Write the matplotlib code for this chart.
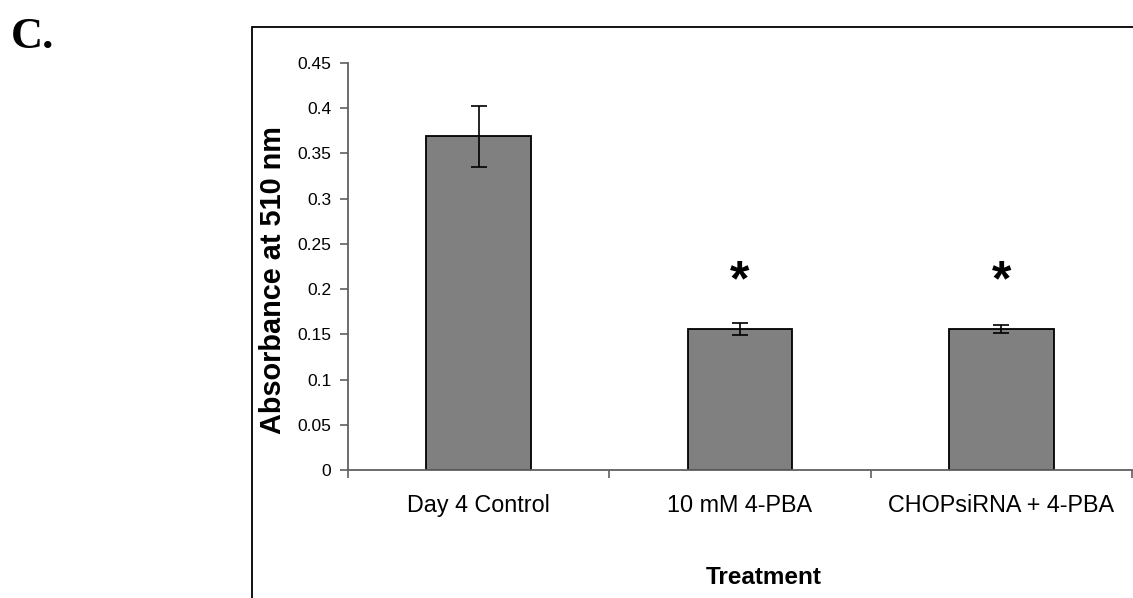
import matplotlib
matplotlib.use("Agg")
import matplotlib.pyplot as plt
from matplotlib.patches import Rectangle

categories = ["Day 4 Control", "10 mM 4-PBA", "CHOPsiRNA + 4-PBA"]
values = [0.369, 0.156, 0.156]
errors = [0.034, 0.0065, 0.004]
significant = [False, True, True]
star_level = 0.207
yticks = [0, 0.05, 0.1, 0.15, 0.2, 0.25, 0.3, 0.35, 0.4, 0.45]
ytick_labels = ["0", "0.05", "0.1", "0.15", "0.2", "0.25", "0.3", "0.35", "0.4", "0.45"]

W, H = 1133, 598
fig = plt.figure(figsize=(W / 100, H / 100), dpi=100)
plt.rcParams['font.family'] = ['Liberation Sans', 'DejaVu Sans']

# outer frame
fig.patches.append(Rectangle((252 / W, -0.1), 2.0, 1 - 27 / H + 0.1, transform=fig.transFigure,
                             fill=False, edgecolor='black', linewidth=1.3))

ax = fig.add_axes([348 / W, 1 - 470 / H, (1132 - 348) / W, (470 - 63) / H])
x = list(range(len(categories)))
ax.bar(x, values, width=0.40, color='#808080', edgecolor='black', linewidth=1.3, zorder=2)
ax.errorbar(x, values, yerr=errors, fmt='none', ecolor='black', elinewidth=1.2,
            capsize=5.5, capthick=1.2, zorder=3)
for xi, s in zip(x, significant):
    if s:
        ax.text(xi, star_level, "*", ha='center', va='center', fontsize=36,
                fontweight='bold')

ax.set_xlim(-0.5, len(categories) - 0.5)
ax.set_ylim(0, 0.45)
ax.set_yticks(yticks)
ax.set_yticklabels(ytick_labels, fontsize=12.5)
ax.set_xticks([i - 0.5 for i in range(len(categories) + 1)])
ax.set_xticklabels([])
ax.set_xticks(x, minor=True)
ax.set_xticklabels(categories, minor=True, fontsize=16.8)
ax.tick_params(axis='x', which='minor', length=0, pad=17.5)
ax.tick_params(axis='x', which='major', length=6, width=1.2, color='#606060', direction='out')
ax.tick_params(axis='y', length=6, width=1.2, color='#606060', pad=6)
for side in ['top', 'right']:
    ax.spines[side].set_visible(False)
for side in ['left', 'bottom']:
    ax.spines[side].set_color('#606060')
    ax.spines[side].set_linewidth(1.3)
ax.patch.set_alpha(0)

fig.text(273 / W, 1 - 280 / H, "Absorbance at 510 nm", rotation=90, ha='center', va='center',
         fontsize=20.8, fontweight='bold')
fig.text(764 / W, 1 - 578 / H, "Treatment", ha='center', va='center',
         fontsize=17.5, fontweight='bold')
fig.text(11 / W, 1 - 48 / H, "C.", ha='left', va='baseline', fontsize=32,
         fontweight='bold', family=['Liberation Serif', 'DejaVu Serif'])

fig.savefig("out.png", dpi=100)
